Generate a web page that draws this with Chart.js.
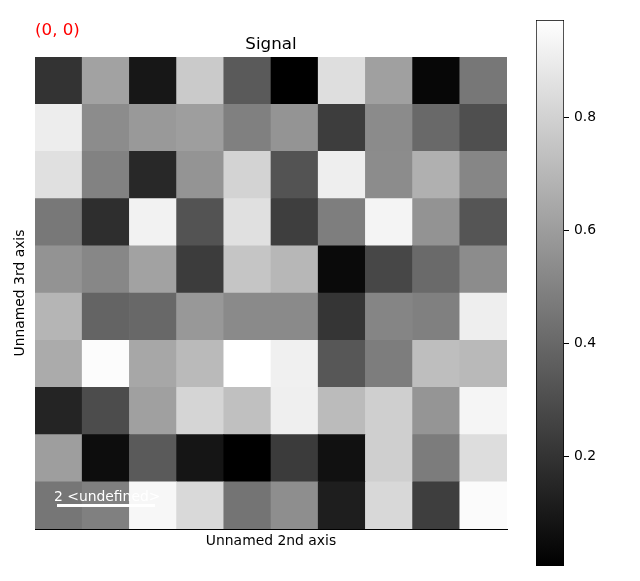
<!DOCTYPE html>
<html>
<head>
<meta charset="utf-8">
<script src="https://cdn.jsdelivr.net/npm/chart.js@4"></script>
<style>
  body { margin: 0; background: #fff; }
  #wrap { position: relative; width: 640px; height: 581px; font-family: "DejaVu Sans", sans-serif; }
  #main { position: absolute; left: 0; top: 0; }
  #cbar { position: absolute; left: 500px; top: 0; }
  .lbl { position: absolute; white-space: nowrap; }
</style>
</head>
<body>
<div id="wrap">
  <canvas id="main" width="640" height="581"></canvas>
  <canvas id="cbar" width="140" height="581"></canvas>
  <div class="lbl" style="left:35px; top:19px; font-size:16.7px; color:#ff0000;">(0, 0)</div>
  <div class="lbl" style="left:54px; top:488px; font-size:13.9px; color:#fff;">2 &lt;undefined&gt;</div>
  <div class="lbl" style="left:57px; top:504px; width:98px; height:3px; background:#fff;"></div>
</div>
<script>
// column labels (Unnamed 2nd axis) and row values, row 0 = top of image
const columns = ['0','1','2','3','4','5','6','7','8','9'];
const row0 = [0.199, 0.620, 0.092, 0.772, 0.347, 0.005, 0.848, 0.612, 0.032, 0.457];
const row1 = [0.905, 0.536, 0.586, 0.605, 0.491, 0.567, 0.237, 0.533, 0.404, 0.305];
const row2 = [0.855, 0.498, 0.157, 0.567, 0.806, 0.320, 0.908, 0.536, 0.673, 0.514];
const row3 = [0.461, 0.180, 0.924, 0.320, 0.855, 0.240, 0.483, 0.931, 0.563, 0.328];
const row4 = [0.563, 0.517, 0.620, 0.233, 0.753, 0.700, 0.043, 0.275, 0.407, 0.536];
const row5 = [0.692, 0.385, 0.400, 0.582, 0.529, 0.529, 0.206, 0.510, 0.491, 0.908];
const row6 = [0.654, 0.962, 0.639, 0.711, 0.973, 0.916, 0.335, 0.480, 0.726, 0.707];
const row7 = [0.142, 0.293, 0.612, 0.814, 0.734, 0.912, 0.715, 0.791, 0.571, 0.935];
const row8 = [0.605, 0.054, 0.347, 0.085, 0.005, 0.229, 0.070, 0.791, 0.476, 0.844];
const row9 = [0.453, 0.491, 0.943, 0.829, 0.445, 0.544, 0.119, 0.825, 0.240, 0.958];
const rows = [row0, row1, row2, row3, row4, row5, row6, row7, row8, row9];
const cbarTicks = [0.2, 0.4, 0.6, 0.8];

const vmin = Math.min(...rows.flat());
const vmax = Math.max(...rows.flat());

const grayOf = (v) => {
  const g = Math.round((v - vmin) / (vmax - vmin) * 255);
  return `rgb(${g},${g},${g})`;
};

// stacked bars, one dataset per row; bottom row first so row 0 lands on top
const datasets = rows.slice().reverse().map((r, i) => ({
  label: 'row ' + (rows.length - 1 - i),
  data: r.map(() => 1),
  backgroundColor: r.map(grayOf),
  borderWidth: 0,
  barPercentage: 1,
  categoryPercentage: 1
}));

const font = { family: 'DejaVu Sans', size: 13.9 };

new Chart(document.getElementById('main'), {
  type: 'bar',
  data: { labels: columns, datasets: datasets },
  options: {
    responsive: false,
    animation: false,
    layout: { padding: { left: 0, right: 133, top: 0, bottom: 0 } },
    plugins: {
      legend: { display: false },
      tooltip: { enabled: false },
      title: {
        display: true,
        text: 'Signal',
        fullSize: false,
        color: '#000',
        font: { family: 'DejaVu Sans', size: 16.7, weight: 'normal' },
        padding: { top: 35, bottom: 2 }
      }
    },
    scales: {
      x: {
        stacked: true,
        grid: { display: false },
        border: { display: true, color: '#000', width: 1 },
        ticks: { display: false },
        title: { display: true, text: 'Unnamed 2nd axis', color: '#000', font: font, padding: { top: 31, bottom: 31 } },
        afterFit: (s) => { s.height = 52; }
      },
      y: {
        stacked: true,
        min: 0,
        max: 10,
        grid: { display: false },
        border: { display: false },
        ticks: { display: false },
        title: { display: true, text: 'Unnamed 3rd axis', color: '#000', font: font, padding: { top: 12, bottom: 12 } },
        afterFit: (s) => { s.width = 35; }
      }
    }
  }
});

// colorbar
new Chart(document.getElementById('cbar'), {
  type: 'bar',
  data: {
    labels: ['c'],
    datasets: [{
      data: [[vmin, vmax]],
      backgroundColor: (ctx) => {
        const area = ctx.chart.chartArea;
        if (!area) return '#888';
        const g = ctx.chart.ctx.createLinearGradient(0, area.bottom, 0, area.top);
        g.addColorStop(0, '#000');
        g.addColorStop(1, '#fff');
        return g;
      },
      borderColor: '#000',
      borderWidth: 1,
      borderSkipped: false,
      barPercentage: 1,
      categoryPercentage: 1
    }]
  },
  options: {
    responsive: false,
    animation: false,
    layout: { padding: { left: 36, top: 20, bottom: 15, right: 0 } },
    plugins: { legend: { display: false }, tooltip: { enabled: false } },
    scales: {
      x: { display: false },
      y: {
        position: 'right',
        min: vmin,
        max: vmax,
        afterBuildTicks: (s) => { s.ticks = cbarTicks.map(v => ({ value: v })); },
        grid: { drawOnChartArea: false, tickLength: 5, tickColor: '#000', tickWidth: 1 },
        border: { display: false },
        ticks: { color: '#000', font: font, padding: 5, callback: (v) => v.toFixed(1) },
        afterFit: (s) => { s.width = 76; }
      }
    }
  }
});
</script>
</body>
</html>
